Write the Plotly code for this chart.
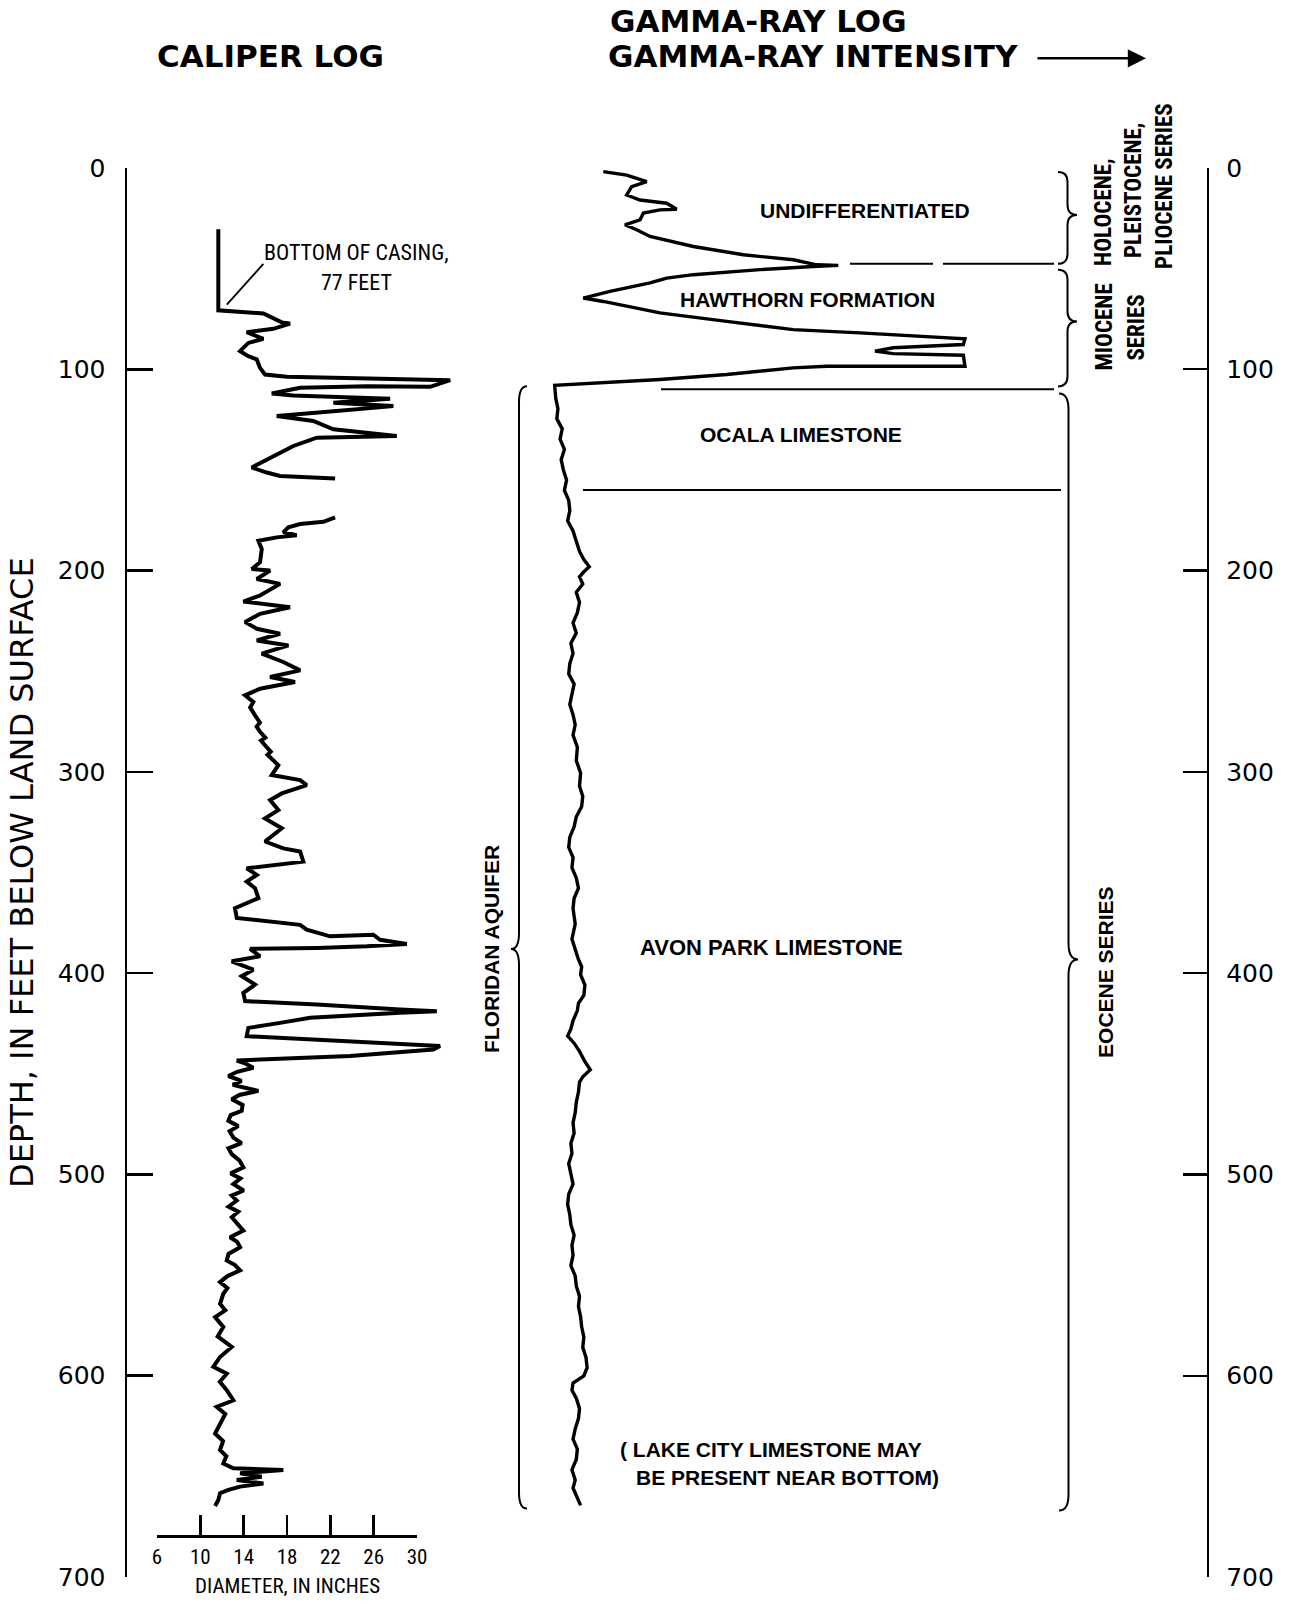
import plotly.graph_objects as go

# ---------------- data ----------------
# Caliper log: depth (ft) and hole diameter (inches); None = pen lift
CAL_DEPTH = [30.4, 70.7, 72.3, 76.7, 77.3, 79.9, 81.6, 83.6, 84.9, 86.9, 91.0, 93.5, 95.1, 99.3,
             102.6, 103.7, 104.4, 105.1, 105.4, 108.7, 108.4, 109.2, 112.0, 113.0, 114.6, 116.6,
             118.3, 120.8, 123.2, 125.7, 129.8, 133.2, 134.0, 138.1, 143.1, 148.8, 151.3, 153.0,
             154.3, None,
             173.6, 175.8, 176.9, 178.5, 181.0, 182.4, 183.5, 185.2, 189.3, 195.9, 199.2, 200.0,
             204.2, 206.6, 212.4, 215.4, 218.2, 221.5, 225.6, 228.9, 231.4, 234.7, 237.2, 241.3,
             245.4, 249.6, 252.9, 255.4, 258.7, 262.0, 265.3, 268.0, 271.9, 275.5, 277.5, 280.1,
             283.0, 284.5, 286.8, 290.0, 291.5, 293.4, 296.7,
             301.6, 304.1, 306.6, 310.7, 314.0, 319.0, 323.1, 328.0, 334.6, 338.0, 339.6, 344.6,
             347.9, 351.2, 354.5, 357.8, 362.7, 367.7, 372.6, 376.0, 378.4, 381.7, 380.9, 383.4,
             385.5, 386.7, 387.5, 387.9, 391.6, 394.1, 398.3, 401.5, 405.7, 409.8, 413.9, 415.6,
             418.1, 418.9, 419.7, 422.2, 424.7, 427.2, 431.3, 433.7, 436.2, 437.9, 441.2, 443.4,
             445.0, 447.0, 449.0, 451.1, 453.5, 455.5, 458.5, 460.5, 462.7, 465.5, 468.4, 470.5,
             473.4, 476.0, 478.5, 481.7, 484.5, 487.0, 489.9, 493.0, 496.5, 499.5, 502.0, 504.8,
             508.0, 510.5, 513.0, 516.0, 518.5, 521.3, 524.5, 527.9, 531.2, 533.5, 536.2, 539.5,
             542.8, 545.0, 547.7, 550.5, 553.5, 556.5, 559.3, 564.3, 567.5, 570.9, 575.8, 580.5,
             585.7, 590.7, 595.6, 599.0, 603.0, 607.2, 612.2, 615.5, 619.0, 622.1, 628.7, 632.5,
             636.9, 640.0, 643.6, 646.0, 646.8, 648.5,
             650.2, 651.8, 653.5, 655.1, 656.7, 658.4, 661.7, 664.7]
CAL_DIAM = [11.66, 11.66, 15.82, 17.52, 18.28, 16.74, 14.28, 15.21, 15.82, 14.43, 13.67, 14.43, 15.21,
            15.51, 15.97, 17.98, 25.36, 31.51, 33.06, 31.21, 25.36, 19.21, 16.59, 18.59, 27.52, 22.28,
            27.82, 22.28, 17.05, 20.43, 22.28, 28.13, 20.75, 18.59, 16.74, 14.75, 16.13, 17.36,
            22.44, None,
            22.44, 21.36, 19.21, 18.13, 17.66, 18.90, 17.05, 15.36, 15.67, 15.51, 14.75, 16.44,
            15.21, 17.36, 15.51, 13.97, 18.28, 15.51, 14.13, 15.21, 17.36, 15.21, 18.13, 15.67,
            17.66, 19.21, 16.44, 18.74, 15.51, 14.13, 14.89, 14.60, 15.05, 15.50, 15.20, 15.51,
            16.00, 15.60, 15.97, 16.50, 16.20, 16.59, 17.20,
            16.59, 19.21, 19.82, 17.52, 16.44, 17.20, 15.97, 17.52, 15.97, 17.66, 19.21, 19.51,
            14.28, 15.21, 14.28, 15.05, 15.36, 13.20, 13.36, 19.21, 19.82, 21.98, 25.97, 26.59,
            29.06, 25.36, 20.75, 14.59, 15.51, 12.90, 14.89, 13.82, 15.05, 13.97, 14.13, 20.75,
            28.44, 31.83, 28.44, 20.13, 17.36, 14.43, 14.28, 22.28, 32.13, 31.51, 23.82, 13.36,
            14.20, 14.89, 13.40, 12.59, 13.80, 13.00, 15.36, 13.60, 12.90, 13.90, 13.82, 12.80,
            12.59, 13.50, 12.70, 13.05, 13.80, 12.60, 12.90, 13.60, 13.97, 12.80, 13.70, 13.05,
            14.00, 12.90, 13.36, 12.60, 13.50, 12.90, 13.40, 13.97, 12.74, 13.40, 13.67, 12.60,
            12.44, 13.20, 13.67, 12.50, 11.82, 12.50, 12.12, 11.82, 12.30, 11.36, 12.12, 11.60,
            12.90, 11.82, 11.20, 12.44, 11.80, 12.44, 13.05, 11.51, 12.30, 11.98, 11.36, 12.10,
            11.82, 12.40, 12.12, 13.05, 17.66, 13.67,
            15.67, 13.36, 15.82, 13.67, 12.59, 11.82, 11.66, 11.36]

# Gamma-ray log: depth (ft) and relative intensity (arbitrary units)
GR_DEPTH = [1.8, 3.5, 6.8, 9.3, 13.4, 15.9, 17.5, 20.5, 20.8, 22.4, 25.8, 28.2, 30.7, 34.0, 39.0,
            43.1, 45.6, 48.1, 48.4, 48.9, 50.5, 53.0, 54.7, 57.1, 61.3, 64.6, 66.3, 68.7, 72.0,
            76.2, 80.3, 81.9, 83.9, 84.9, 87.7, 89.3, 91.0, 92.2, 93.0, 98.5, 98.5, 98.5, 99.3,
            102.6, 105.1, 106.7, 108.0,
            114.4, 119.5, 124.6, 129.6, 134.7, 139.8, 144.9, 149.9, 155.0, 160.1, 165.1, 170.2,
            175.3, 180.3, 185.4, 190.5, 194.5, 198.1, 200.6, 203.1, 206.7, 210.8, 215.8, 220.9,
            226.0, 231.0, 236.1, 241.2, 246.2, 251.3, 256.4, 261.4, 266.5, 271.6, 276.6, 281.7,
            287.8, 294.4, 300.5, 307.1, 312.1, 317.2, 322.3, 327.3, 332.4, 337.5, 342.5, 347.6,
            352.7, 357.8, 362.8, 367.9, 375.5, 383.1, 388.2, 393.2, 396.8, 400.8, 405.9, 411.0,
            415.0, 418.6, 423.6, 427.7, 431.2, 434.8, 438.9, 443.9, 448.0, 451.5, 454.1, 459.1,
            464.2, 469.3, 474.3, 479.4, 484.5, 489.5, 494.6, 499.7, 504.8, 509.8, 514.9, 520.0,
            525.0, 530.1, 535.2, 540.2, 545.3, 550.4, 555.4, 560.5, 565.6, 570.7, 575.7, 580.8,
            585.9, 590.9, 596.0, 600.1, 603.6, 607.2, 611.2, 616.3, 621.3, 626.4, 631.5, 636.5,
            641.6, 646.7, 651.8, 655.8, 659.3, 664.4]
GR_INTENSITY = [44.10, 46.27, 48.12, 46.73, 46.27, 47.50, 49.97, 50.90, 49.35, 47.81, 47.50, 46.11,
                47.19, 48.43, 52.44, 57.06, 61.69, 63.86, 65.86, 63.55, 58.61, 52.44, 49.97, 48.43,
                44.72, 42.25, 44.10, 46.27, 49.35, 55.53, 61.69, 67.87, 74.05, 77.59, 77.44, 70.95,
                69.26, 70.95, 77.44, 77.59, 70.95, 64.79, 61.69, 55.53, 49.35, 43.18, 39.6,
                39.7, 39.9, 39.8, 40.3, 40.1, 40.5, 40.2, 40.4, 40.7, 40.5, 40.9, 41.0,
                40.8, 41.3, 41.6, 41.9, 42.3, 42.8, 42.3, 41.9, 42.2, 41.6, 41.9, 41.7,
                41.3, 41.6, 41.1, 41.3, 41.0, 40.9, 41.4, 41.2, 41.0, 41.3, 41.5, 41.3,
                41.7, 41.6, 42.0, 41.9, 42.2, 42.1, 41.6, 41.4, 41.0, 40.9, 41.3, 41.2,
                41.6, 41.8, 41.4, 41.3, 41.5, 41.2, 41.5, 41.8, 42.1, 42.0, 42.4, 42.3,
                41.8, 41.7, 41.3, 41.1, 40.8, 41.4, 41.9, 42.4, 42.9, 42.2, 41.9, 41.8,
                41.6, 41.5, 41.3, 41.4, 41.1, 41.2, 40.9, 41.1, 41.3, 40.9, 40.8, 41.0,
                41.1, 41.4, 41.2, 41.3, 41.1, 41.5, 41.6, 41.9, 41.8, 42.0, 42.1, 42.3,
                42.2, 42.5, 42.6, 42.3, 41.3, 41.2, 41.6, 41.9, 41.8, 41.5, 41.3, 41.7,
                41.6, 41.2, 41.5, 41.3, 41.6, 42.0]

DEPTH_TICKS = [0, 100, 200, 300, 400, 500, 600, 700]
DIAM_TICKS = [6, 10, 14, 18, 22, 26, 30]

# Formation / unit depths (ft)
CASING_BOTTOM = 77
UNDIFF_HAWTHORN = 47.6
HAWTHORN_OCALA = 109.9
OCALA_AVON = 160.0
HOLO_BRACE = (2.0, 47.6, 23.3)
MIO_BRACE = (50.5, 108.5, 76.3)
EOC_BRACE = (112.0, 667.0, 393.2)
FLOR_BRACE = (108.4, 666.0, 388.0)

# ---------------- layout geometry ----------------
W, H = 1297, 1604
L, R, T, B = 127, 90, 168, 23
PW = W - L - R
PH = H - T - B
DIAM_PX0, DIAM_PX1 = 157, 417  # pixel positions of 6 and 30 inch


def px(xp):
    return (xp - L) / PW


def py(yp):
    return (H - B - yp) / PH


in_per_px = (DIAM_TICKS[-1] - DIAM_TICKS[0]) / (DIAM_PX1 - DIAM_PX0)
cal_r0 = DIAM_TICKS[0] - (DIAM_PX0 - L) * in_per_px
cal_r1 = cal_r0 + PW * in_per_px

NARROW = "Liberation Sans Narrow, Roboto Condensed, Liberation Sans, sans-serif"
LETTER = "Liberation Sans, Arial, sans-serif"
GEO = "DejaVu Sans, Verdana, sans-serif"

fig = go.Figure()
fig.add_trace(go.Scatter(x=CAL_DIAM, y=CAL_DEPTH, mode="lines", xaxis="x", yaxis="y",
                         line=dict(color="black", width=4), connectgaps=False, hoverinfo="skip"))
fig.add_trace(go.Scatter(x=GR_INTENSITY, y=GR_DEPTH, mode="lines", xaxis="x2", yaxis="y",
                         line=dict(color="black", width=3.4), hoverinfo="skip"))
fig.add_trace(go.Scatter(x=[], y=[], xaxis="x3", yaxis="y", showlegend=False))
fig.add_trace(go.Scatter(x=[], y=[], xaxis="x", yaxis="y2", showlegend=False))

axis_hidden = dict(showline=False, showticklabels=False, ticks="", showgrid=False, zeroline=False)

fig.update_layout(
    width=W, height=H, margin=dict(l=L, r=R, t=T, b=B),
    paper_bgcolor="white", plot_bgcolor="rgba(0,0,0,0)", showlegend=False, hovermode=False,
    xaxis=dict(domain=[0, 1], range=[cal_r0, cal_r1], anchor="y", **axis_hidden),
    xaxis2=dict(domain=[0, 1], range=[0, 100], overlaying="x", anchor="y", **axis_hidden),
    xaxis3=dict(domain=[px(DIAM_PX0), px(DIAM_PX1)], range=[DIAM_TICKS[0], DIAM_TICKS[-1]],
                anchor="free", position=py(1540), side="bottom",
                showline=True, linecolor="black", linewidth=2.5,
                ticks="inside", ticklen=20, tickwidth=2.5, tickcolor="black",
                tickvals=DIAM_TICKS, ticktext=[str(v) for v in DIAM_TICKS],
                tickfont=dict(family=NARROW, size=21, color="black"),
                showgrid=False, zeroline=False, ticklabelstandoff=1),
    yaxis=dict(domain=[0, 1], range=[700, 0], anchor="x", side="left",
               showline=True, linecolor="black", linewidth=2.5,
               ticks="inside", ticklen=26, tickwidth=2.5, tickcolor="black",
               tickvals=DEPTH_TICKS, ticktext=[str(v) for v in DEPTH_TICKS],
               tickfont=dict(family=GEO, size=25, color="black"),
               showgrid=False, zeroline=False, ticklabelstandoff=14),
    yaxis2=dict(domain=[0, 1], range=[700, 0], anchor="x", overlaying="y", side="right",
                showline=True, linecolor="black", linewidth=2.2,
                ticks="inside", ticklen=24, tickwidth=2.2, tickcolor="black",
                tickvals=DEPTH_TICKS, ticktext=[str(v) for v in DEPTH_TICKS],
                tickfont=dict(family=GEO, size=25, color="black"),
                showgrid=False, zeroline=False, ticklabelstandoff=12),
)


def gx(xp):
    """pixel x -> gamma-axis units"""
    return (xp - L) / PW * 100


def brace(xa, xb, y0, y1, ym, r):
    xm = (xa + xb) / 2
    return (f"M {xa},{y0} Q {xm},{y0} {xm},{y0 + r} L {xm},{ym - r} "
            f"Q {xm},{ym} {xb},{ym} Q {xm},{ym} {xm},{ym + r} "
            f"L {xm},{y1 - r} Q {xm},{y1} {xa},{y1}")


shapes = []
for (y0, y1, ym), (xa, xb), r in [
    (HOLO_BRACE, (1058, 1077), 5),
    (MIO_BRACE, (1058, 1077), 5),
    (EOC_BRACE, (1059, 1078), 8),
    (FLOR_BRACE, (527, 511), 8),
]:
    shapes.append(dict(type="path", xref="x2", yref="y", path=brace(gx(xa), gx(xb), y0, y1, ym, r),
                       line=dict(color="black", width=2)))

for xa, xb, d in [(850, 933, UNDIFF_HAWTHORN), (943, 1054, UNDIFF_HAWTHORN),
                  (661, 1054, HAWTHORN_OCALA), (583, 1061, OCALA_AVON)]:
    shapes.append(dict(type="line", xref="x2", yref="y", x0=gx(xa), x1=gx(xb), y0=d, y1=d,
                       line=dict(color="black", width=2)))

# leader for casing note
shapes.append(dict(type="line", xref="x", yref="y", x0=15.82, y0=47.6, x1=12.44, y1=67.9,
                   line=dict(color="black", width=1.8)))
fig.update_layout(shapes=shapes)

ann = []


def text(t, x, y, size, family=LETTER, yref="y", angle=0, weight="bold", xanchor="center"):
    ann.append(dict(text=t, x=x, y=y, xref="paper", yref=yref, showarrow=False,
                    textangle=angle, xanchor=xanchor, yanchor="middle",
                    font=dict(family=family, size=size, color="black", weight=weight)))


# headings
text("CALIPER LOG", px(270), py(56), 31, GEO, "paper")
text("GAMMA-RAY LOG", px(758), py(21), 31, GEO, "paper")
text("GAMMA-RAY INTENSITY", px(1020), py(56), 31, GEO, "paper", xanchor="right")
ann.append(dict(x=px(1146), y=py(58), xref="paper", yref="paper", text="", showarrow=True,
                ax=-110, ay=0, arrowhead=2, arrowsize=1.4, arrowwidth=2.6, arrowcolor="black",
                standoff=0))
text("DEPTH, IN FEET BELOW LAND SURFACE", px(22), py(875), 32, GEO, "paper", angle=-90,
     weight="normal")

# caliper annotations
text("BOTTOM OF CASING,", px(356), 41.9, 22, NARROW, weight="normal")
text(f"{CASING_BOTTOM} FEET", px(356), 57.0, 22, NARROW, weight="normal")
text("DIAMETER, IN INCHES", px(287), py(1590), 21, NARROW, yref="paper", weight="normal")

# gamma annotations
text("UNDIFFERENTIATED", px(865), 21.2, 21)
text("HAWTHORN FORMATION", px(807), 65.4, 21)
text("OCALA LIMESTONE", px(801), 132.3, 21)
text("AVON PARK LIMESTONE", px(771), 387.5, 22)
text("( LAKE CITY LIMESTONE MAY", px(618), 636.5, 21, xanchor="left")
text("BE PRESENT NEAR BOTTOM)", px(634), 650.6, 21, xanchor="left")
text("FLORIDAN AQUIFER", px(492), 388.0, 21, angle=-90)
text("EOCENE SERIES", px(1106), 399.4, 21, angle=-90)
text("MIOCENE", px(1105), 79.3, 23, NARROW, angle=-90)
text("SERIES", px(1137), 79.3, 23, NARROW, angle=-90)
text("HOLOCENE,", px(1104), 21.8, 23, NARROW, angle=-90)
text("PLEISTOCENE,", px(1134), 11.4, 23, NARROW, angle=-90)
text("PLIOCENE SERIES", px(1165), 8.9, 23, NARROW, angle=-90)

fig.update_layout(annotations=ann)
fig.write_html("out.html", config={"displayModeBar": False, "staticPlot": True},
               post_script="document.body.style.margin='0px';document.body.style.overflow='hidden';")
